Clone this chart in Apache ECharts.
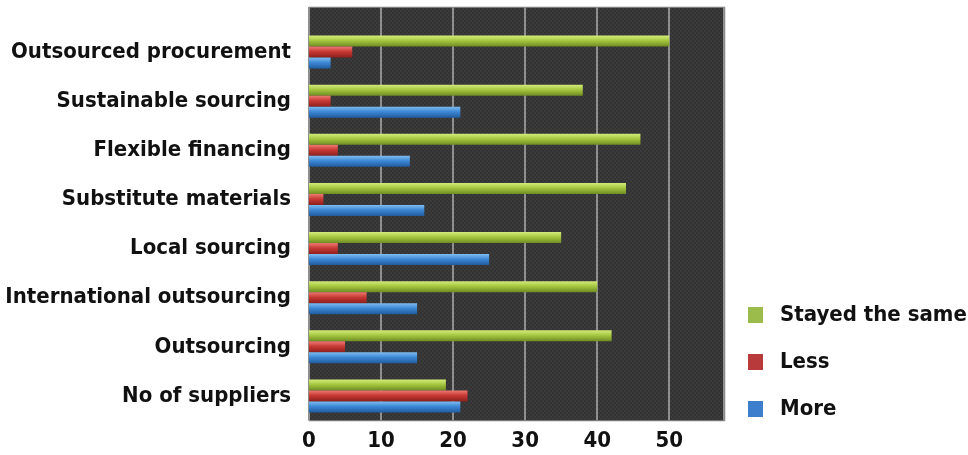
<!DOCTYPE html>
<html><head><meta charset="utf-8">
<script src="https://cdn.jsdelivr.net/npm/echarts@6/dist/echarts.min.js"></script>
<style>html,body{margin:0;padding:0;background:#fff}#c{width:968px;height:455px}</style>
</head><body><div id="c"></div>
<script>
const categories = ['Outsourced procurement','Sustainable sourcing','Flexible financing','Substitute materials','Local sourcing','International outsourcing','Outsourcing','No of suppliers'];
const stayedSame = [50, 38, 46, 44, 35, 40, 42, 19];
const less = [6, 3, 4, 2, 4, 8, 5, 22];
const more = [3, 21, 14, 16, 25, 15, 15, 21];
const xTicks = [0, 10, 20, 30, 40, 50];

const FONT = '"Liberation Sans Narrow","DejaVu Sans Condensed","Arial Narrow",sans-serif';

function grad(a,b,c){
  return new echarts.graphic.LinearGradient(0,0,0,1,[{offset:0,color:a},{offset:0.45,color:b},{offset:1,color:c}]);
}
const pc = document.createElement('canvas'); pc.width = 4; pc.height = 4;
const pctx = pc.getContext('2d');
pctx.fillStyle = '#3b3b3b'; pctx.fillRect(0,0,4,4);
pctx.fillStyle = '#333333'; pctx.fillRect(0,0,2,2); pctx.fillRect(2,2,2,2);

const chart = echarts.init(document.getElementById('c'));
chart.setOption({
  animation:false,
  graphic:[{type:'rect', z:-10, silent:true, shape:{x:309,y:7,width:416,height:414}, style:{fill:{image:pc, repeat:'repeat'}, stroke:'#bdbdbd', lineWidth:1}}],
  grid:[
    {left:309, right:244, top:27.5, bottom:34.5},
    {left:309, right:244, top:7, bottom:34.5}
  ],
  legend:{
    data:[{name:'Stayed the same',itemStyle:{color:'#9bbb4b'}},{name:'Less',itemStyle:{color:'#b83a3a'}},{name:'More',itemStyle:{color:'#3d7fcc'}}],
    orient:'vertical', left:748, top:303, padding:0,
    itemWidth:15, itemHeight:16, itemGap:23, icon:'rect',
    textStyle:{fontFamily:FONT, fontWeight:'bold', fontSize:22, color:'#111', lineHeight:24, padding:[0,0,0,12]}
  },
  xAxis:[
    {type:'value', gridIndex:0, min:0, max:57.6, interval:10,
      axisLine:{show:false}, axisTick:{show:false}, splitLine:{show:false},
      axisLabel:{margin:10, fontFamily:FONT, fontWeight:'bold', fontSize:22, color:'#111', showMaxLabel:false,
        formatter:v=> xTicks.indexOf(v)>=0 ? String(v) : ''}
    },
    {type:'value', gridIndex:1, min:0, max:57.6, interval:10, z:-5,
      axisLine:{show:false}, axisTick:{show:false}, axisLabel:{show:false},
      splitLine:{show:true, lineStyle:{color:'#8e8e8e', width:2}}
    }
  ],
  yAxis:[
    {type:'category', gridIndex:0, data:categories, inverse:true,
      axisLine:{show:false}, axisTick:{show:false},
      axisLabel:{margin:18, fontFamily:FONT, fontWeight:'bold', fontSize:22, color:'#111', padding:[0,0,6,0]}
    },
    {type:'value', gridIndex:1, show:false, splitLine:{show:false}}
  ],
  series:[
    {name:'Stayed the same', type:'bar', data:stayedSame, barWidth:11, barGap:'0%', itemStyle:{color:grad('#d4ec7a','#a6c740','#6f8c22')}},
    {name:'Less', type:'bar', data:less, barWidth:11, barGap:'0%', itemStyle:{color:grad('#ee7a72','#c83a35','#8e1e1c')}},
    {name:'More', type:'bar', data:more, barWidth:11, barGap:'0%', itemStyle:{color:grad('#7fbdf0','#3d88d6','#215c9e')}}
  ]
});
</script></body></html>
